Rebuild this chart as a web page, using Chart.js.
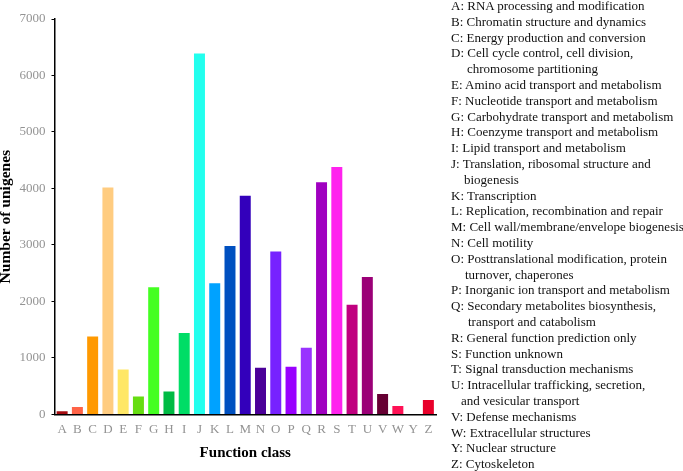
<!DOCTYPE html>
<html>
<head>
<meta charset="utf-8">
<script src="https://cdn.jsdelivr.net/npm/chart.js@4"></script>
<style>
    html, body { margin: 0; padding: 0; background: #fff; }
    #wrap { position: relative; width: 683px; height: 471px; }
    #legend {
        position: absolute; left: 451px; top: -2px;
        font-family: 'Liberation Serif', 'Times New Roman', serif;
        font-size: 13px; line-height: 15.8px; color: #111;
        white-space: nowrap;
    }
</style>
</head>
<body>
<div id="wrap">
    <canvas id="cogChart" width="683" height="471"></canvas>
    <div id="legend"></div>
</div>
<script>
// COG classes (no X in this figure)
const categories = ['A', 'B', 'C', 'D', 'E', 'F', 'G', 'H', 'I', 'J', 'K', 'L', 'M', 'N', 'O', 'P', 'Q', 'R', 'S', 'T', 'U', 'V', 'W', 'Y', 'Z'];
const unigeneCounts = [55, 130, 1380, 4015, 795, 318, 2250, 405, 1443, 6390, 2320, 2980, 3870, 825, 2885, 843, 1178, 4110, 4380, 1943, 2433, 360, 147, 0, 253];
const barColors = ['#a50c10', '#ff6347', '#ff9900', '#ffcc80', '#ffe766', '#66dd11', '#44ff22', '#00bb44', '#00dd66', '#22ffee',
    '#00a2ff', '#0050c0', '#3300bb', '#4b0099', '#7722ff', '#9900ff', '#9933ff', '#a000c0', '#ff22ee', '#c0007f',
    '#9b0077', '#660033', '#ff1155', '#cc0033', '#e8002a'];
const yTicks = [0, 1000, 2000, 3000, 4000, 5000, 6000, 7000];

// class descriptions, second entry = wrapped continuation line
const classNames = [
    ['RNA processing and modification'],
    ['Chromatin structure and dynamics'],
    ['Energy production and conversion'],
    ['Cell cycle control, cell division,', 'chromosome partitioning'],
    ['Amino acid transport and metabolism'],
    ['Nucleotide transport and metabolism'],
    ['Carbohydrate transport and metabolism'],
    ['Coenzyme transport and metabolism'],
    ['Lipid transport and metabolism'],
    ['Translation, ribosomal structure and', 'biogenesis'],
    ['Transcription'],
    ['Replication, recombination and repair'],
    ['Cell wall/membrane/envelope biogenesis'],
    ['Cell motility'],
    ['Posttranslational modification, protein', 'turnover, chaperones'],
    ['Inorganic ion transport and metabolism'],
    ['Secondary metabolites biosynthesis,', 'transport and catabolism'],
    ['General function prediction only'],
    ['Function unknown'],
    ['Signal transduction mechanisms'],
    ['Intracellular trafficking, secretion,', 'and vesicular transport'],
    ['Defense mechanisms'],
    ['Extracellular structures'],
    ['Nuclear structure'],
    ['Cytoskeleton']
];

// hanging indent of wrapped lines (px), as typed in the original figure
const contIndent = { D: 16, J: 13, O: 14, Q: 17, U: 10 };

// legend on the right
const legendBox = document.getElementById('legend');
classNames.forEach((lines, i) => {
    const first = document.createElement('div');
    first.textContent = categories[i] + ': ' + lines[0];
    legendBox.appendChild(first);
    if (lines[1]) {
        const cont = document.createElement('div');
        cont.style.paddingLeft = (contIndent[categories[i]] || 14) + 'px';
        cont.textContent = lines[1];
        legendBox.appendChild(cont);
    }
});

const serif = "'Liberation Serif', 'Times New Roman', serif";

const ctx = document.getElementById('cogChart').getContext('2d');
new Chart(ctx, {
    type: 'bar',
    data: {
        labels: categories,
        datasets: [{
            label: 'Number of unigenes',
            data: unigeneCounts,
            backgroundColor: barColors,
            borderWidth: 0,
            barPercentage: 0.72,
            categoryPercentage: 1.0
        }]
    },
    options: {
        responsive: false,
        animation: false,
        layout: {
            padding: { left: -2, right: 247, top: 19, bottom: 9 }
        },
        plugins: {
            legend: { display: false },
            tooltip: { enabled: false }
        },
        scales: {
            x: {
                grid: { display: false, drawTicks: false },
                border: { display: true, color: '#000', width: 1.5 },
                ticks: {
                    color: '#939393',
                    padding: 7,
                    font: { family: serif, size: 13 },
                    maxRotation: 0,
                    autoSkip: false
                },
                title: {
                    display: true,
                    text: 'Function class',
                    color: '#000',
                    font: { family: serif, size: 15, weight: 'bold' },
                    padding: { top: 0, bottom: 0 }
                }
            },
            y: {
                min: 0,
                max: 7000,
                afterBuildTicks: axis => {
                    axis.ticks = yTicks.map(v => ({ value: v }));
                },
                grid: { display: true, drawOnChartArea: false, drawTicks: true, tickLength: 3, color: '#000' },
                border: { display: true, color: '#000', width: 1.5 },
                ticks: {
                    color: '#939393',
                    padding: 6,
                    font: { family: serif, size: 13 },
                    callback: value => String(value)
                },
                title: {
                    display: true,
                    text: 'Number of unigenes',
                    color: '#000',
                    font: { family: serif, size: 15.5, weight: 'bold', lineHeight: 1 },
                    padding: { top: 0, bottom: 0 }
                }
            }
        }
    }
});
</script>
</body>
</html>
